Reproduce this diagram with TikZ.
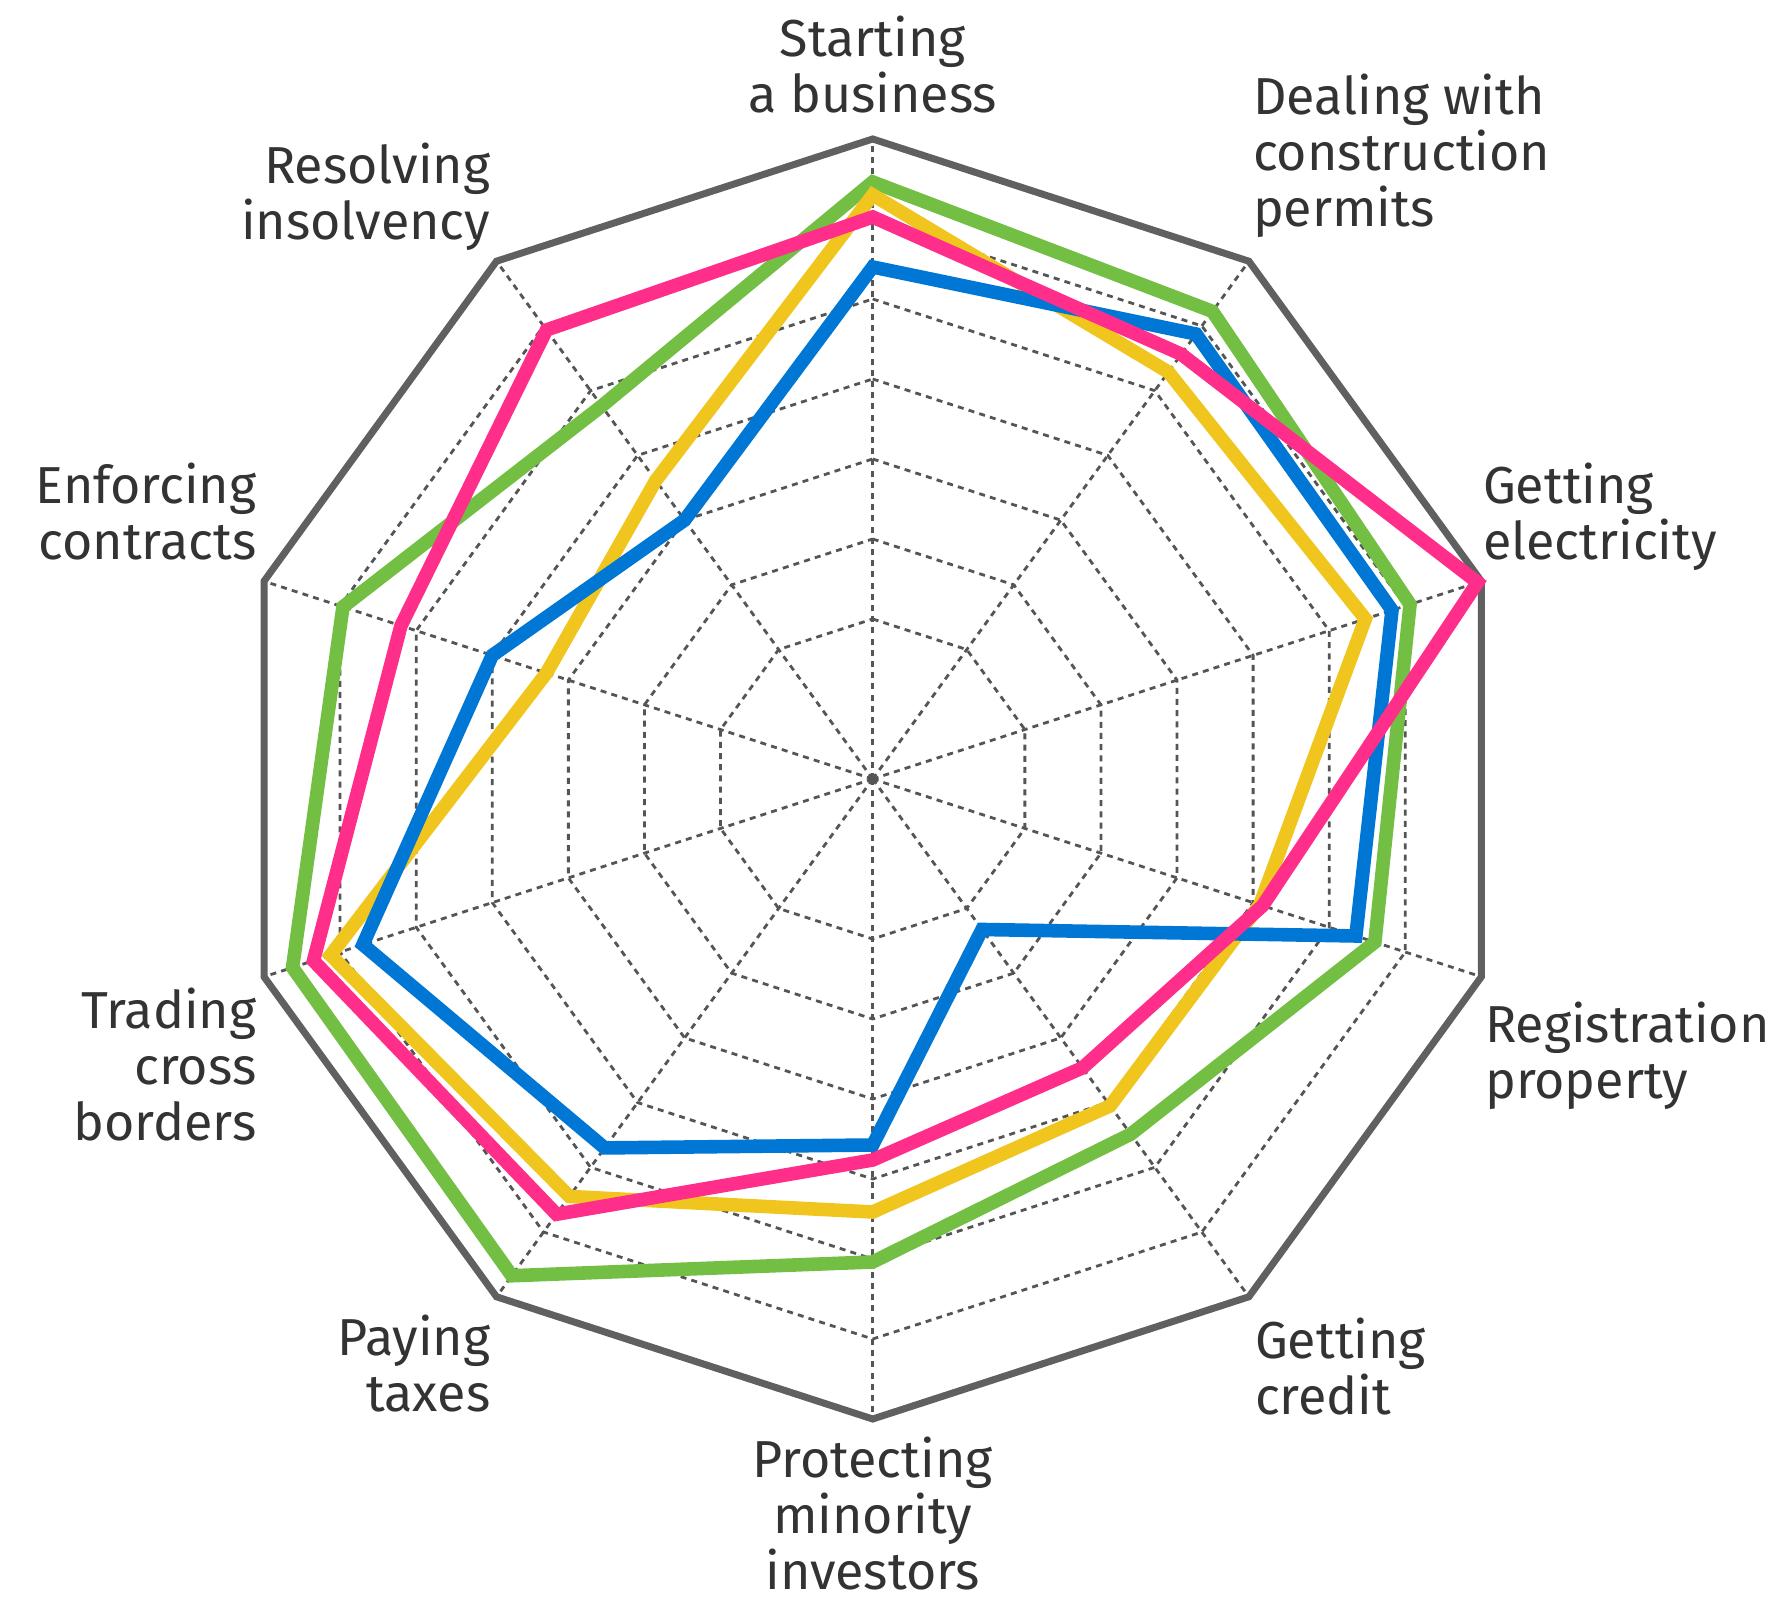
\documentclass[tikz,border=0pt]{standalone}
\usepackage{fontspec}
\setmainfont{Fira Sans}
\usepackage{xcolor}
\definecolor{ringgray}{RGB}{96,96,96}
\definecolor{gridgray}{RGB}{85,85,85}
\definecolor{labelgray}{RGB}{51,51,51}
\definecolor{scoregreen}{RGB}{114,191,68}
\definecolor{scoreyellow}{RGB}{240,198,30}
\definecolor{scorepink}{RGB}{255,46,138}
\definecolor{scoreblue}{RGB}{0,119,212}
\tikzset{gridline/.style={draw=gridgray, line width=1.4pt, dash pattern=on 3pt off 2.6pt},
 outerring/.style={draw=ringgray, line width=3.5pt},
 score/.style={line width=6.8pt, line join=miter},
 axislabel/.style={text=labelgray, inner sep=0pt,
  font=\fontsize{26}{28}\selectfont},
 }

\begin{document}
\begin{tikzpicture}[x=0.5pt, y=0.5pt]
        \useasboundingbox (-872.7,-826) rectangle (919.3,779);
        % grid
        \foreach \r in {160,240,...,560}
            \draw[gridline] (90:\r) \foreach \a in {54,18,...,-234} { -- (\a:\r) } -- cycle;
        \foreach \a in {90,54,...,-234}
            \draw[gridline] (0,0) -- (\a:640);
        \draw[outerring] (90:640) \foreach \a in {54,18,...,-234} { -- (\a:640) } -- cycle;
        % scores
        \draw[score, scoregreen] (90:597) -- (54:578) -- (18:565) -- (-18:528) -- (-54:439)
            -- (-90:483) -- (-126:614) -- (-162:610) -- (162:557) -- (126:461) -- cycle;
        \draw[score, scoreyellow] (90:584) -- (54:503) -- (18:518) -- (-18:407) -- (-54:404)
            -- (-90:433) -- (-126:516) -- (-162:570) -- (162:343) -- (126:369) -- cycle;
        \draw[score, scoreblue] (90:512) -- (54:550) -- (18:546) -- (-18:508) -- (-54:186)
            -- (-90:366) -- (-126:456) -- (-162:536) -- (162:400) -- (126:320) -- cycle;
        \draw[score, scorepink] (90:562) -- (54:525) -- (18:636) -- (-18:410) -- (-54:357)
            -- (-90:381) -- (-126:538) -- (-162:588) -- (162:496) -- (126:555) -- cycle;
        % labels (anchored at the last line)
        \node[axislabel, anchor=base, align=center] (start) at (0,666) {Starting\\a business};
        \node[axislabel, anchor=base west, align=left] (permits) at (380,552) {Dealing with\\construction\\permits};
        \node[axislabel, anchor=base west, align=left] (power) at (610,219) {Getting\\electricity};
        \node[axislabel, anchor=base west, align=left] (property) at (612,-319) {Registration\\property};
        \node[axislabel, anchor=base west, align=left] (credit) at (382,-635) {Getting\\credit};
        \node[axislabel, anchor=base, align=center] (investors) at (0,-810) {Protecting\\minority\\investors};
        \node[axislabel, anchor=base east, align=right] (taxes) at (-382,-632) {Paying\\taxes};
        \node[axislabel, anchor=base east, align=right] (trade) at (-616,-361) {Trading\\cross\\borders};
        \node[axislabel, anchor=base east, align=right] (contracts) at (-616,219) {Enforcing\\contracts};
        \node[axislabel, anchor=base east, align=right] (insolvency) at (-382,539) {Resolving\\insolvency};
    \end{tikzpicture}
\end{document}
